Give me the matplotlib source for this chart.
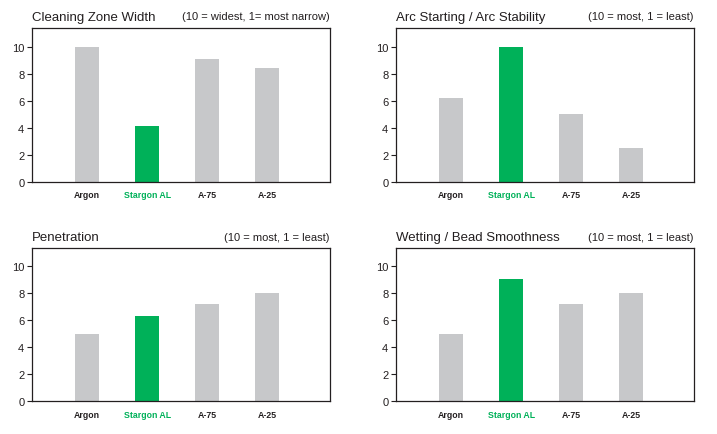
import matplotlib
matplotlib.use("Agg")
import matplotlib.pyplot as plt
from matplotlib import font_manager

categories = ["Argon", "Stargon AL", "A-75", "A-25"]
cleaning = [10.0, 4.15, 9.1, 8.45]
arc = [6.22, 10.0, 5.04, 2.52]
penetration = [5.0, 6.32, 7.21, 8.02]
wetting = [5.0, 9.06, 7.2, 8.0]
titles = ["Cleaning Zone Width", "Arc Starting / Arc Stability", "Penetration", "Wetting / Bead Smoothness"]
subtitles = ["(10 = widest, 1= most narrow)", "(10 = most, 1 = least)", "(10 = most, 1 = least)", "(10 = most, 1 = least)"]
yticks = [0, 2, 4, 6, 8, 10]

GRAY = "#c7c8ca"
GREEN = "#00b159"
plt.rcParams['font.family'] = ['Liberation Sans', 'DejaVu Sans']
names = {f.name for f in font_manager.fontManager.ttflist}
narrow = 'Liberation Sans Narrow' if 'Liberation Sans Narrow' in names else 'Liberation Sans'

fig = plt.figure(figsize=(7.17, 4.35), dpi=100)
W, H = 717, 435
boxes = [(32, 29, 330, 183), (396, 29, 694, 183), (32, 249.3, 330, 402.3), (396, 249.3, 694, 402.3)]
data = [cleaning, arc, penetration, wetting]
for (l, t, r, b), vals, ttl, sub in zip(boxes, data, titles, subtitles):
    ax = fig.add_axes([l / W, 1 - b / H, (r - l) / W, (b - t) / H])
    x = list(range(len(categories)))
    colors = [GREEN if c == "Stargon AL" else GRAY for c in categories]
    ax.bar(x, vals, width=0.4, color=colors, zorder=2)
    ax.set_xlim(-0.92, 4.05)
    ax.set_ylim(0, (b - t) / 13.5)
    ax.set_yticks(yticks)
    ax.set_xticks(x)
    ax.set_xticklabels(categories, fontfamily=narrow, fontweight='bold', fontsize=6.3)
    for lbl, c in zip(ax.get_xticklabels(), categories):
        lbl.set_color(GREEN if c == "Stargon AL" else "#231f20")
    ax.tick_params(axis='x', length=0, pad=6)
    ax.tick_params(axis='y', length=3.5, width=0.8, direction='out', labelsize=8, pad=2, colors='#231f20')
    for s in ax.spines.values():
        s.set_linewidth(0.9)
        s.set_color('#231f20')
    fig.text(l / W, 1 - (t - 8.5) / H, ttl, fontsize=9.5, color='#231f20', ha='left', va='baseline')
    fig.text(r / W, 1 - (t - 8.5) / H, sub, fontsize=8, color='#231f20', ha='right', va='baseline')

fig.savefig("out.png", dpi=100)
